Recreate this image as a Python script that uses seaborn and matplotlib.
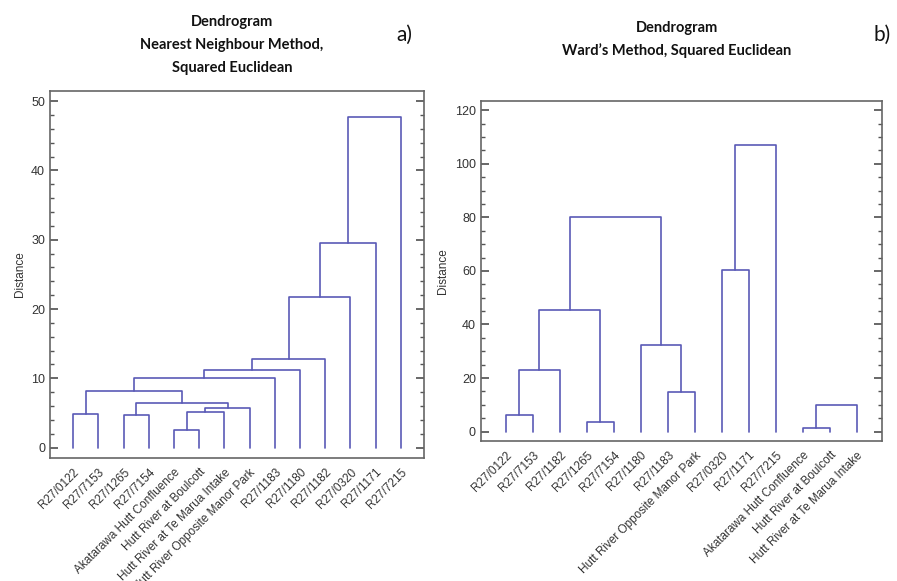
import numpy as np
import pandas as pd
import seaborn as sns
import matplotlib
matplotlib.use("Agg")
import matplotlib.pyplot as plt
from matplotlib.ticker import MultipleLocator

# leaf labels, in dendrogram order
labels_nn = ["R27/0122", "R27/7153", "R27/1265", "R27/7154",
             "Akatarawa Hutt Confluence", "Hutt River at Boulcott",
             "Hutt River at Te Marua Intake", "Hutt River Opposite Manor Park",
             "R27/1183", "R27/1180", "R27/1182", "R27/0320", "R27/1171", "R27/7215"]
labels_ward = ["R27/0122", "R27/7153", "R27/1182", "R27/1265", "R27/7154",
               "R27/1180", "R27/1183", "Hutt River Opposite Manor Park",
               "R27/0320", "R27/1171", "R27/7215",
               "Akatarawa Hutt Confluence", "Hutt River at Boulcott",
               "Hutt River at Te Marua Intake"]

# merges: (left child, right child, distance); children >= 14 are earlier merges
merges_nn_left = [0, 2, 4, 16, 17, 15, 14, 20, 21, 22, 23, 24, 25]
merges_nn_right = [1, 3, 5, 6, 7, 18, 19, 8, 9, 10, 11, 12, 13]
merges_nn_dist = [4.85, 4.75, 2.6, 5.2, 5.7, 6.4, 8.1, 10.1, 11.2, 12.8, 21.8, 29.5, 47.7]

merges_ward_left = [0, 14, 3, 15, 6, 5, 17, 8, 21, 11, 23]
merges_ward_right = [1, 2, 4, 16, 7, 18, 19, 9, 10, 12, 13]
merges_ward_dist = [6.1, 23.1, 3.5, 45.5, 14.9, 32.2, 80.0, 60.2, 107.0, 1.2, 9.8]

LINE = "#5a5ab6"


def link_table(n, lefts, rights, dists):
    # build the U-shaped links like scipy's dendrogram does
    xs = {i: float(i) for i in range(n)}
    ys = {i: 0.0 for i in range(n)}
    rows = []
    for k, (a, b, d) in enumerate(zip(lefts, rights, dists)):
        for px, py in [(xs[a], ys[a]), (xs[a], d), (xs[b], d), (xs[b], ys[b])]:
            rows.append((k, px, py))
        xs[n + k] = (xs[a] + xs[b]) / 2
        ys[n + k] = d
    return pd.DataFrame(rows, columns=["link", "x", "y"])


def draw(ax, labels, lefts, rights, dists, ylim, major, minor):
    n = len(labels)
    df = link_table(n, lefts, rights, dists)
    sns.lineplot(data=df, x="x", y="y", units="link", estimator=None, sort=False,
                 color=LINE, lw=1.2, ax=ax)
    ax.set_xlim(-0.92, n - 1 + 0.92)
    ax.set_ylim(*ylim)
    ax.set_xticks(range(n))
    ax.set_xticklabels(labels, rotation=45, ha="right", rotation_mode="anchor",
                       fontsize=8.5, color="#333333")
    ax.tick_params(axis="x", length=0, pad=6)
    ax.yaxis.set_major_locator(MultipleLocator(major))
    ax.yaxis.set_minor_locator(MultipleLocator(minor))
    ax.tick_params(axis="y", which="both", direction="in", left=True, right=True,
                   labelsize=9, labelcolor="#333333", color="#555555")
    ax.tick_params(axis="y", which="major", length=6)
    ax.tick_params(axis="y", which="minor", length=3)
    ax.set_xlabel("")
    ax.set_ylabel("Distance", fontsize=8.5, color="#333333")
    for s in ax.spines.values():
        s.set_visible(True)
        s.set_color("#666666")
        s.set_linewidth(1.2)


sns.set_theme(style="white")
plt.rcParams["font.family"] = ["Liberation Sans Narrow", "Liberation Sans", "DejaVu Sans"]

fig = plt.figure(figsize=(8.97, 5.81), dpi=100)
ax1 = fig.add_axes([0.0557, 0.2117, 0.417, 0.632])
ax2 = fig.add_axes([0.536, 0.241, 0.447, 0.585])

draw(ax1, labels_nn, merges_nn_left, merges_nn_right, merges_nn_dist, (-1.5, 51.5), 10, 2)
draw(ax2, labels_ward, merges_ward_left, merges_ward_right, merges_ward_dist, (-3.5, 123.4), 20, 5)

tfont = dict(family=["Lato", "DejaVu Sans"], fontweight="bold", fontsize=10.5,
             ha="center", va="center", color="#111111")
fig.text(232 / 897, 1 - 22 / 581, "Dendrogram", **tfont)
fig.text(232 / 897, 1 - 45 / 581, "Nearest Neighbour Method,", **tfont)
fig.text(232 / 897, 1 - 68 / 581, "Squared Euclidean", **tfont)
fig.text(677 / 897, 1 - 28 / 581, "Dendrogram", **tfont)
fig.text(677 / 897, 1 - 51 / 581, "Ward\u2019s Method, Squared Euclidean", **tfont)

pfont = dict(family=["Lato", "DejaVu Sans"], fontsize=15, ha="center", va="center",
             color="#111111")
fig.text(404 / 897, 1 - 35 / 581, "a)", **pfont)
fig.text(882 / 897, 1 - 35 / 581, "b)", **pfont)

fig.savefig("out.png", dpi=100)
